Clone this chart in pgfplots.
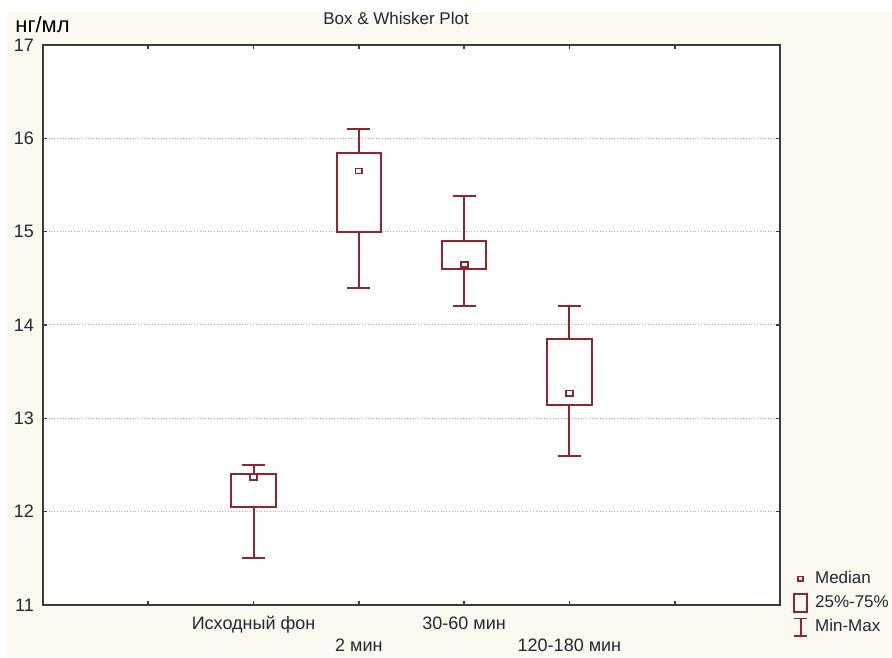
\documentclass[border=0pt]{standalone}
\usepackage{fontspec}
\setmainfont{Liberation Sans}
\usepackage{pgfplots}
\pgfplotsset{compat=1.18}
\definecolor{boxred}{RGB}{140,40,45}
\definecolor{cream}{RGB}{251,249,240}
\definecolor{txt}{RGB}{38,38,52}
\definecolor{frame}{RGB}{60,60,60}
\begin{document}
\begin{tikzpicture}
\fill[white] (0,0) rectangle (446pt,328.5pt);
\fill[cream] (3.5pt,0) rectangle (446pt,322.5pt);
\useasboundingbox (0,0) rectangle (446pt,328.5pt);
\node[anchor=base west, font=\fontsize{11}{13}\selectfont, text=black, inner sep=0] at (7.5pt,312pt) {нг/мл};
\node[font=\fontsize{8.5}{10}\selectfont, text=txt, inner sep=0] at (198pt,319.5pt) {Box \& Whisker Plot};
\begin{axis}[
  at={(21.5pt,26pt)}, anchor=south west,
  width=368.5pt, height=280pt, scale only axis,
  axis background/.style={fill=white},
  xmin=0, xmax=7, ymin=11, ymax=17,
  xtick={1,2,3,4,5,6},
  xticklabels={,{\strut Исходный фон},{\strut\\\strut 2 мин},{\strut 30-60 мин},{\strut\\\strut 120-180 мин},},
  ytick={11,12,13,14,15,16,17},
  tick align=inside,
  major tick length=2pt,
  tick style={frame, line width=0.8pt},
  axis line style={frame, line width=1.1pt},
  ymajorgrids,
  grid style={densely dotted, gray!60, line width=0.5pt},
  /pgf/number format/assume math mode=true,
  ticklabel style={font=\fontsize{9}{11}\selectfont, text=txt},
  xticklabel style={align=center, yshift=-1pt},
  yticklabel style={xshift=-1pt},
  legend style={at={(1.0175,0.068)}, anchor=north west, draw=none, fill=none,
    font=\fontsize{8.5}{10}\selectfont, text=txt, row sep=0.5pt, inner sep=0pt},
  legend cell align=left,
  unbounded coords=jump,
]
% whiskers (vertical lines and caps): Исходный фон, 2 мин, 30-60 мин, 120-180 мин
\addplot[forget plot, boxred, line width=1pt] coordinates {
 (2,12.4) (2,12.5) (nan,nan) (1.89,12.5) (2.11,12.5) (nan,nan)
 (2,12.05) (2,11.5) (nan,nan) (1.89,11.5) (2.11,11.5) (nan,nan)
 (3,15.84) (3,16.1) (nan,nan) (2.89,16.1) (3.11,16.1) (nan,nan)
 (3,15.0) (3,14.4) (nan,nan) (2.89,14.4) (3.11,14.4) (nan,nan)
 (4,14.9) (4,15.38) (nan,nan) (3.89,15.38) (4.11,15.38) (nan,nan)
 (4,14.6) (4,14.2) (nan,nan) (3.89,14.2) (4.11,14.2) (nan,nan)
 (5,13.85) (5,14.2) (nan,nan) (4.89,14.2) (5.11,14.2) (nan,nan)
 (5,13.14) (5,12.6) (nan,nan) (4.89,12.6) (5.11,12.6)
};
% boxes 25%-75%
\addplot[forget plot, boxred, line width=1pt, fill=white] coordinates {(1.79,12.05) (2.21,12.05) (2.21,12.4) (1.79,12.4)} -- cycle;
\addplot[forget plot, boxred, line width=1pt, fill=white] coordinates {(2.79,15.0) (3.21,15.0) (3.21,15.84) (2.79,15.84)} -- cycle;
\addplot[forget plot, boxred, line width=1pt, fill=white] coordinates {(3.79,14.6) (4.21,14.6) (4.21,14.9) (3.79,14.9)} -- cycle;
\addplot[forget plot, boxred, line width=1pt, fill=white] coordinates {(4.79,13.14) (5.21,13.14) (5.21,13.85) (4.79,13.85)} -- cycle;
% medians
\addplot[forget plot, only marks, mark=square*, mark size=1.5pt, mark options={boxred, fill=white, line width=0.9pt, xscale=1.15, yscale=0.85}] coordinates {(2,12.37) (3,15.65) (4,14.65) (5,13.27)};
\addlegendimage{legend image code/.code={\path[draw=none,fill=none] (0,-4.5pt) rectangle (6.5pt,4.5pt); \draw[boxred, fill=none, line width=0.9pt] (2pt,-1.2pt) rectangle (4.5pt,1.2pt);}}
\addlegendentry{\hspace{1.5pt}Median}
\addlegendimage{legend image code/.code={\path[draw=none,fill=none] (0,-4.5pt) rectangle (6.5pt,4.5pt); \draw[boxred, fill=none, line width=0.9pt] (0,-4.5pt) rectangle (6.5pt,4.5pt);}}
\addlegendentry{\hspace{1.5pt}25\%-75\%}
\addlegendimage{legend image code/.code={\path[draw=none,fill=none] (0,-4.5pt) rectangle (6.5pt,4.5pt); \draw[boxred, fill=none, line width=0.9pt] (0,-4.3pt) -- (6.5pt,-4.3pt) (3.25pt,-4.3pt) -- (3.25pt,4.3pt) (0,4.3pt) -- (6.5pt,4.3pt);}}
\addlegendentry{\hspace{1.5pt}Min-Max}
\end{axis}
\end{tikzpicture}
\end{document}
